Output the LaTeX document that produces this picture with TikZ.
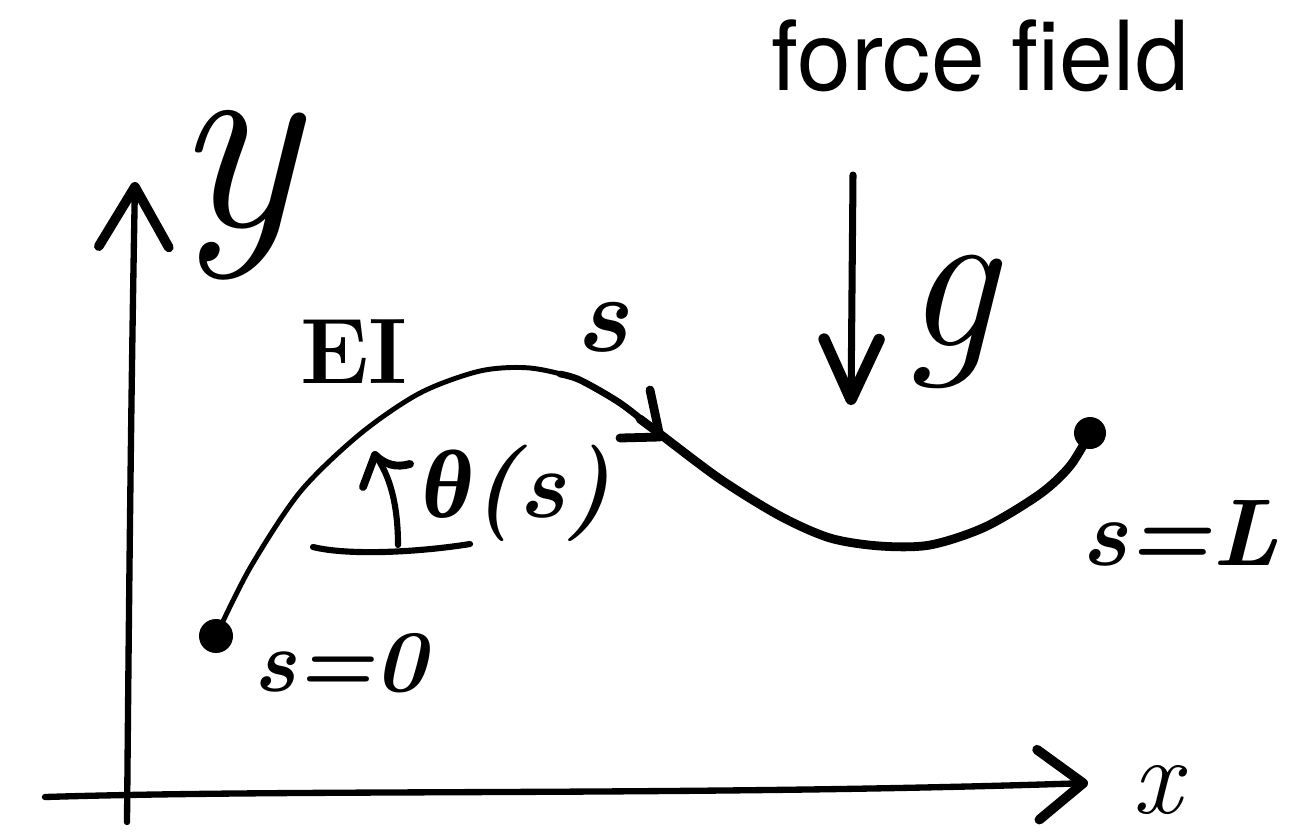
\documentclass[tikz,border=0pt]{standalone}
\usepackage{fontspec}
\newfontfamily\headfont{TeX Gyre Heros}
\newfontfamily\greekfont{Liberation Serif}
\usepackage{tikz}
\usetikzlibrary{arrows.meta}

\begin{document}
\begin{tikzpicture}[x=0.02cm, y=-0.02cm,
		hand/.style={line width=5pt, line cap=round, line join=round},
		axis/.style={line width=3.6pt, line cap=round},
		lbl/.style={inner sep=0pt, font=\fontsize{#1}{#1}\selectfont\itshape},
		blbl/.style={inner sep=0pt, font=\fontsize{#1}{#1}\selectfont\bfseries\itshape},
		barb/.style={-{Straight Barb[length=#1, width=1.4cm, line width=5.5pt, round]}}
		]
		\useasboundingbox (0,0) rectangle (1307,833);
		
		\coordinate (yfoot) at (127,822);
		\coordinate (ytop) at (135,182);
		\coordinate (xfoot) at (45,797);
		\coordinate (xtip) at (1088,783);
		\coordinate (ftop) at (853,175);
		\coordinate (fbot) at (851,405);
		\coordinate (s0) at (216,636);
		\coordinate (sL) at (1090,433);
		\coordinate (stip) at (660,437);
		\coordinate (atip) at (375,455);
		\coordinate (afoot) at (398,545);
		\coordinate (refl) at (313,547);
		\coordinate (refr) at (470,544);
		
		% axes
		\draw[axis, barb=1.2cm] (yfoot) .. controls (129,600) and (131,400) .. (ytop);
		\draw[axis, barb=0.9cm] (xfoot) .. controls (300,789) and (700,796) .. (xtip);
		\node[lbl=150pt] (ylbl) at (236,195) {y};
		\node[lbl=62pt] (xlbl) at (1157,790) {x};
		
		% force field
		\node[inner sep=0pt, anchor=base, font=\headfont\fontsize{55}{60}\selectfont] (field) at (980,90) {force field};
		\draw[line width=4pt, line cap=round, -{Straight Barb[length=1.2cm, width=1.1cm, line width=6.5pt, round]}] (ftop) -- (fbot);
		\node[lbl=118pt] (glbl) at (950,322) {g};
		
		% beam
		\draw[line width=2.8pt, line cap=round] plot[smooth] coordinates {(s0) (250,568) (300,492) (360,434) (420,393) (480,371) (530,368) (580,380) (620,403) (660,434) (720,479) (780,516) (830,538) (880,546) (930,545) (985,527) (1040,494) (1070,466) (sL)};
		\draw[line width=3.8pt, line cap=round] plot[smooth] coordinates {(560,374) (580,380) (620,403) (660,434) (720,479)};
		\draw[line width=5pt, line cap=round] plot[smooth] coordinates {(640,419) (660,434) (720,479) (780,516) (830,538) (880,546) (930,545) (985,527) (1040,494) (1070,466) (sL)};
		\fill (s0) circle[radius=0.34cm];
		\fill (sL) circle[radius=0.32cm];
		\draw[hand] (stip) ++(-10,-47) -- (stip) -- ++(-40,1);
		
		% angle
		\draw[hand, line width=3.5pt] (refl) .. controls (350,556) and (420,552) .. (refr);
		\draw[hand, line width=3.5pt] (afoot) .. controls (398,505) and (390,475) .. (atip);
		\draw[hand, line width=4.5pt] (atip) -- ++(-12,32);
		\draw[hand, line width=4.5pt] (atip) to[bend right=30] ++(35,9);
		
		\node[blbl=53pt, font=\fontsize{53}{53}\selectfont\bfseries] (EI) at (354,352) {EI};
		\node[blbl=62pt] (slbl) at (602,327) {s};
		\node[blbl=55pt] (theta) at (517,493) {{\greekfont θ}(s)};
		\node[blbl=50pt] (s0lbl) at (340,663) {s=0};
		\node[blbl=54pt] (sLlbl) at (1180,533) {s=L};
	\end{tikzpicture}
\end{document}
